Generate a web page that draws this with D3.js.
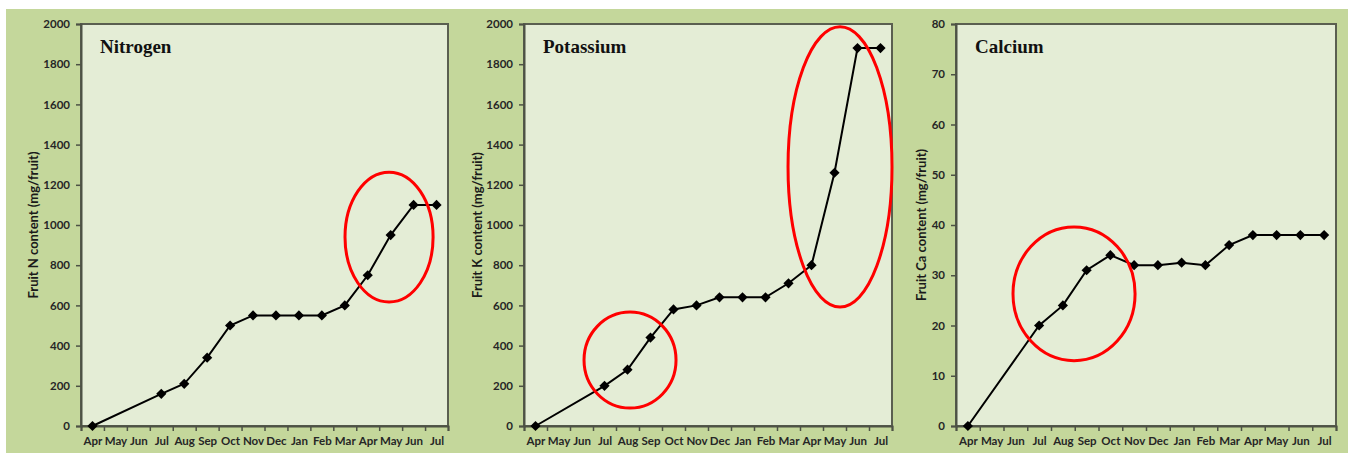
<!DOCTYPE html>
<html>
<head>
<meta charset="utf-8">
<script src="https://cdn.jsdelivr.net/npm/d3@7/dist/d3.min.js"></script>
<style>
  body { margin: 0; background: #fff; }
  svg { display: block; }
  .tick text { font-family: Lato, "Open Sans", sans-serif; font-weight: bold; font-size: 11.5px; fill: #262626; }
</style>
</head>
<body>
<svg width="1348" height="453"></svg>
<script>
// month sequence, Apr of one year to Jul of the next
var months = ["Apr","May","Jun","Jul","Aug","Sep","Oct","Nov","Dec","Jan","Feb","Mar","Apr","May","Jun","Jul"];

// fruit content per month (null = not sampled)
var nitrogen  = [0, null, null, 160, 210, 340, 500, 550, 550, 550, 550, 600, 750, 950, 1100, 1100];
var potassium = [0, null, null, 200, 280, 440, 580, 600, 640, 640, 640, 710, 800, 1260, 1880, 1880];
var calcium   = [0, null, null, 20, 24, 31, 34, 32, 32, 32.5, 32, 36, 38, 38, 38, 38];

// red highlight rings: centre (month index, value), radius (months, value)
var nRings  = [{cx: 12.93, cy: 940, rx: 1.92, ry: 323}];
var kRings  = [{cx: 4.11, cy: 328, rx: 2.0, ry: 239}, {cx: 13.24, cy: 1289, rx: 2.26, ry: 697}];
var caRings = [{cx: 4.47, cy: 26.3, rx: 2.57, ry: 13.3}];

var svg = d3.select("svg"),
    width = +svg.attr("width"),
    height = +svg.attr("height");

// green page behind the three charts
svg.append("rect")
    .attr("x", 6).attr("y", 9)
    .attr("width", width - 6).attr("height", height - 9)
    .attr("fill", "#c4d79b");

var plotTop = 24, plotBottom = 426;

var panels = [
  {title: "Nitrogen",  label: "Fruit N content (mg/fruit)",  values: nitrogen,  rings: nRings,  max: 2000, step: 200, left: 81,  right: 448,  labelOff: 48},
  {title: "Potassium", label: "Fruit K content (mg/fruit)",  values: potassium, rings: kRings,  max: 2000, step: 200, left: 524, right: 892,  labelOff: 47},
  {title: "Calcium",   label: "Fruit Ca content (mg/fruit)", values: calcium,   rings: caRings, max: 80,   step: 10,  left: 956, right: 1336, labelOff: 35}
];

panels.forEach(function(p) {
  var x = d3.scaleLinear().domain([0, months.length]).range([p.left, p.right]);
  var y = d3.scaleLinear().domain([0, p.max]).range([plotBottom, plotTop]);
  var g = svg.append("g");

  // plot area
  g.append("rect")
      .attr("x", p.left).attr("y", plotTop)
      .attr("width", p.right - p.left).attr("height", plotBottom - plotTop)
      .attr("fill", "#e4edd6")
      .attr("stroke", "#5a5f50")
      .attr("stroke-width", 2);

  // y axis
  var ya = g.append("g")
      .attr("transform", "translate(" + p.left + ",0)")
      .call(d3.axisLeft(y).tickValues(d3.range(0, p.max + 1, p.step))
        .tickFormat(d3.format("d")).tickSize(5).tickPadding(6));
  ya.select(".domain").attr("stroke", "#4d5245").attr("stroke-width", 2);
  ya.selectAll(".tick line").attr("stroke", "#4d5245").attr("stroke-width", 1.5);

  // x axis: tick marks between months
  var xa = g.append("g")
      .attr("transform", "translate(0," + plotBottom + ")")
      .call(d3.axisBottom(x).tickValues(d3.range(0, months.length + 1)).tickSize(5).tickFormat(""));
  xa.select(".domain").attr("stroke", "#4d5245").attr("stroke-width", 2);
  xa.selectAll(".tick line").attr("stroke", "#4d5245").attr("stroke-width", 1.5);

  // month labels centred in each band
  var xl = g.append("g")
      .attr("transform", "translate(0," + plotBottom + ")")
      .call(d3.axisBottom(x).tickValues(d3.range(months.length).map(function(i) { return i + 0.5; }))
        .tickSize(0).tickPadding(11).tickFormat(function(d) { return months[d - 0.5]; }));
  xl.select(".domain").remove();

  // axis title
  g.append("text")
      .attr("transform", "translate(" + (p.left - p.labelOff) + "," + ((plotTop + plotBottom) / 2) + ") rotate(-90)")
      .attr("text-anchor", "middle")
      .attr("dy", "0.35em")
      .style("font-family", "Lato, 'Open Sans', sans-serif")
      .style("font-weight", "bold")
      .style("font-size", "13px")
      .style("fill", "#1a1a1a")
      .text(p.label);

  // chart title
  g.append("text")
      .attr("x", p.left + 19).attr("y", 53)
      .style("font-family", "'Liberation Serif', 'DejaVu Serif', serif")
      .style("font-weight", "bold")
      .style("font-size", "19px")
      .style("fill", "#111")
      .text(p.title);

  var pts = p.values.map(function(v, i) { return {i: i, v: v}; })
      .filter(function(d) { return d.v != null; });

  var line = d3.line()
      .x(function(d) { return x(d.i + 0.5); })
      .y(function(d) { return y(d.v); });

  g.append("path")
      .datum(pts)
      .attr("d", line)
      .attr("fill", "none")
      .attr("stroke", "#000")
      .attr("stroke-width", 2);

  // diamond markers (square turned 45 degrees)
  g.selectAll(".pt")
      .data(pts)
      .enter().append("path")
      .attr("class", "pt")
      .attr("transform", function(d) { return "translate(" + x(d.i + 0.5) + "," + y(d.v) + ") rotate(45)"; })
      .attr("d", d3.symbol().type(d3.symbolSquare).size(52))
      .attr("fill", "#000");

  // highlight rings
  g.selectAll(".ring")
      .data(p.rings)
      .enter().append("ellipse")
      .attr("class", "ring")
      .attr("cx", function(d) { return x(d.cx + 0.5); })
      .attr("cy", function(d) { return y(d.cy); })
      .attr("rx", function(d) { return x(d.rx) - x(0); })
      .attr("ry", function(d) { return y(0) - y(d.ry); })
      .attr("fill", "none")
      .attr("stroke", "#ff0000")
      .attr("stroke-width", 3);
});
</script>
</body>
</html>
